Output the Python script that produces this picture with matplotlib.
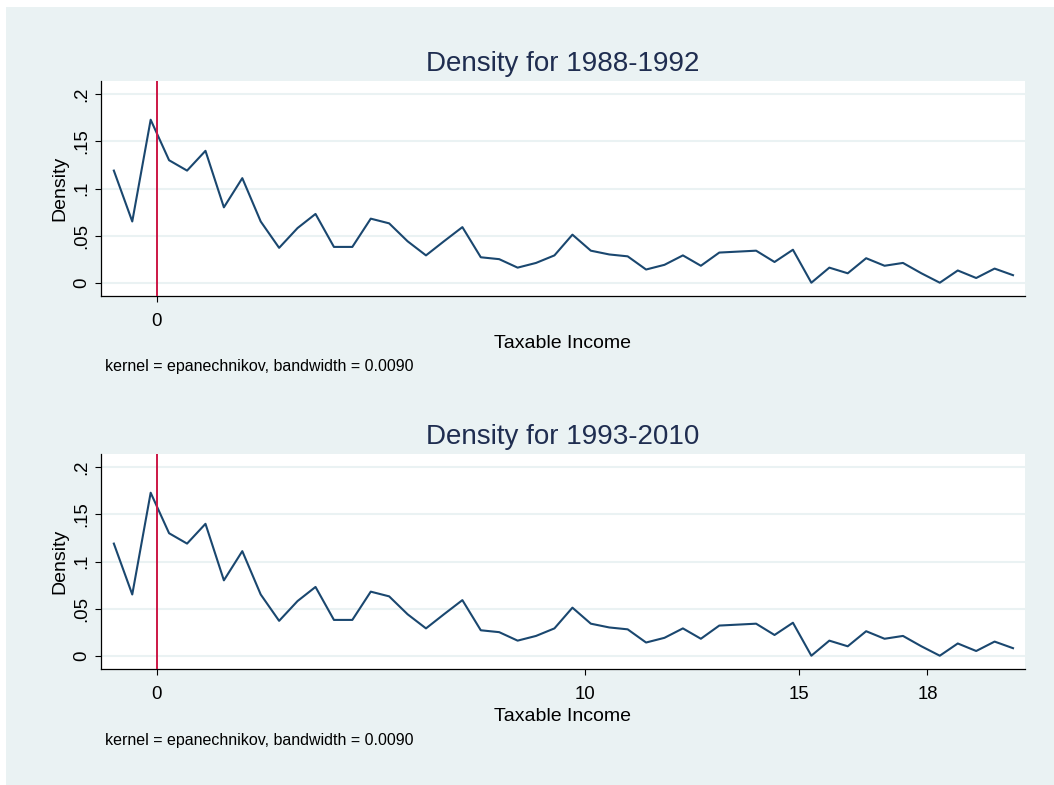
"""Kernel density of taxable income, two sub-periods, Stata s2color look."""
import matplotlib
matplotlib.use("Agg")
import matplotlib.pyplot as plt
from matplotlib.patches import Rectangle

plt.rcParams["font.family"] = ["Liberation Sans", "DejaVu Sans"]

# evaluation grid (50 points, min to max) and density estimates
income_grid = [-1.00, -0.57, -0.14, 0.29, 0.71, 1.14, 1.57, 2.00, 2.43, 2.86,
               3.29, 3.71, 4.14, 4.57, 5.00, 5.43, 5.86, 6.29, 6.71, 7.14,
               7.57, 8.00, 8.43, 8.86, 9.29, 9.71, 10.14, 10.57, 11.00, 11.43,
               11.86, 12.29, 12.71, 13.14, 13.57, 14.00, 14.43, 14.86, 15.29, 15.71,
               16.14, 16.57, 17.00, 17.43, 17.86, 18.29, 18.71, 19.14, 19.57, 20.00]
dens_1988_1992 = [0.119, 0.065, 0.173, 0.130, 0.119, 0.140, 0.080, 0.111, 0.065, 0.037,
                  0.058, 0.073, 0.038, 0.038, 0.068, 0.063, 0.044, 0.029, 0.044, 0.059,
                  0.027, 0.025, 0.016, 0.021, 0.029, 0.051, 0.034, 0.030, 0.028, 0.014,
                  0.019, 0.029, 0.018, 0.032, 0.033, 0.034, 0.022, 0.035, 0.000, 0.016,
                  0.010, 0.026, 0.018, 0.021, 0.010, 0.000, 0.013, 0.005, 0.015, 0.008]
dens_1993_2010 = list(dens_1988_1992)

periods = ["1988-1992", "1993-2010"]
densities = [dens_1988_1992, dens_1993_2010]
xticks_per_panel = [[0], [0, 10, 15, 18]]
yticks = [0, 0.05, 0.1, 0.15, 0.2]
ytick_labels = ["0", ".05", ".1", ".15", ".2"]
note = "kernel = epanechnikov, bandwidth = 0.0090"

BG = "#eaf2f3"
NAVY = "#1a476f"
W, H = 1054, 785

fig = plt.figure(figsize=(W / 100, H / 100), dpi=100, facecolor="white")
fig.patches.append(Rectangle((6 / W, 0), 1, (H - 7) / H, transform=fig.transFigure,
                             facecolor=BG, edgecolor="none", zorder=-10))

# panel boxes in pixels: (top, bottom)
boxes = [(81, 296), (454, 669)]
left, right = 101, 1025

for (top, bottom), period, dens, xt in zip(boxes, periods, densities, xticks_per_panel):
    ax = fig.add_axes([left / W, (H - bottom) / H, (right - left) / W, (bottom - top) / H])
    ax.set_facecolor("white")
    ax.plot(income_grid, dens, color=NAVY, lw=1.5, zorder=3)
    ax.axvline(0, color="#cc1745", lw=1.4, zorder=4)
    ax.set_xlim(-1.3, 20.28)
    ax.set_ylim(-0.0141, 0.2141)
    ax.set_xticks(xt)
    ax.set_yticks(yticks)
    ax.set_yticklabels(ytick_labels, rotation=90, va="center")
    ax.grid(axis="y", color=BG, lw=1.5, zorder=1)
    ax.set_axisbelow(True)
    for s in ["top", "right"]:
        ax.spines[s].set_visible(False)
    for s in ["left", "bottom"]:
        ax.spines[s].set_linewidth(0.9)
        ax.spines[s].set_color("black")
    ax.tick_params(length=4.5, width=0.8, labelsize=13.4)
    ax.tick_params(axis="x", pad=7.5)
    ax.tick_params(axis="y", pad=3.5)
    ax.set_ylabel("Density", fontsize=14, labelpad=3)
    ax.set_xlabel("Taxable Income", fontsize=14, labelpad=3.5)
    ax.set_title(f"Density for {period}", fontsize=20, color="#1f2d50", pad=7)
    fig.text(105 / W, (H - bottom - 71) / H, note, fontsize=11.5, va="center", ha="left")

fig.savefig("out.png", dpi=100, facecolor=fig.get_facecolor())
